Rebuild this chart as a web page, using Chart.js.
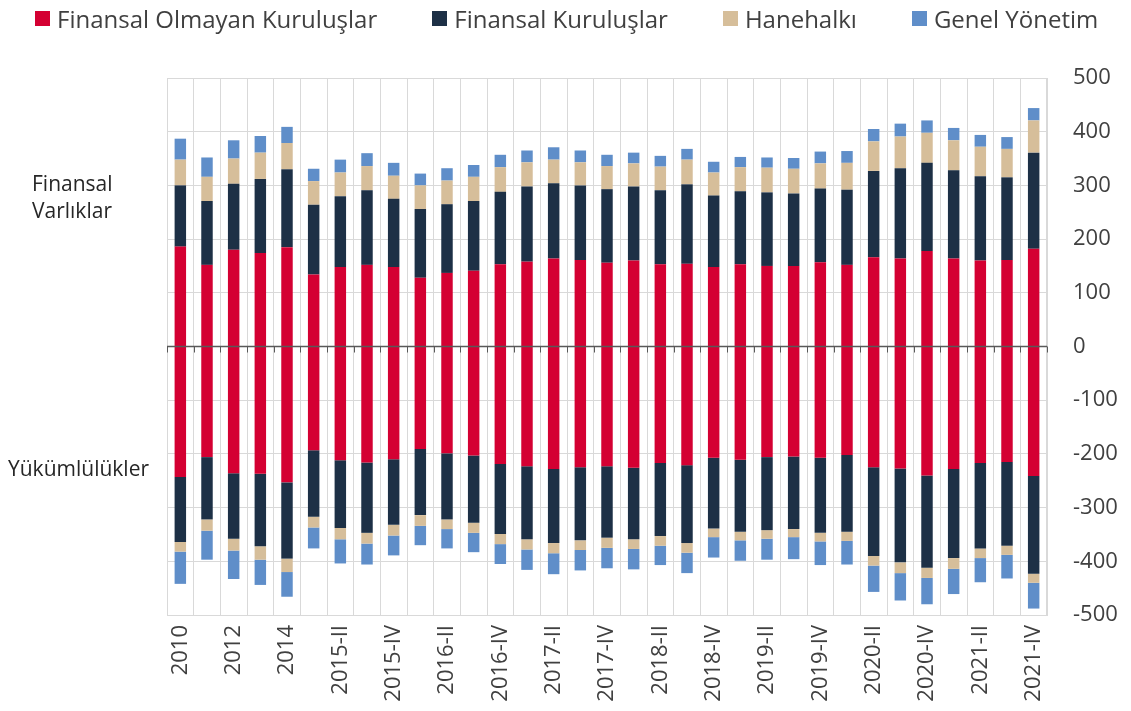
<!DOCTYPE html>
<html lang="tr">
<head>
<meta charset="utf-8">
<title>Finansal Varlıklar ve Yükümlülükler</title>
<script src="https://cdn.jsdelivr.net/npm/chart.js@4.4.1/dist/chart.umd.min.js"></script>
<style>
    html, body {
        margin: 0;
        padding: 0;
        background: #fff;
    }
    #wrap {
        position: relative;
        width: 1131px;
        height: 711px;
        font-family: "Open Sans", "DejaVu Sans", sans-serif;
    }
    #grafik {
        position: absolute;
        left: 0;
        top: 0;
    }
    #legenda {
        position: absolute;
        left: 35px;
        top: 2px;
        display: flex;
        gap: 55px;
        font-size: 24px;
        color: #404040;
        white-space: nowrap;
    }
    #legenda .item {
        display: flex;
        align-items: center;
    }
    #legenda .box {
        width: 15px;
        height: 15px;
        margin-right: 7px;
    }
    .rotulo {
        position: absolute;
        font-size: 21px;
        line-height: 27px;
        color: #262626;
    }
</style>
</head>
<body>
<div id="wrap">
    <canvas id="grafik" width="1131" height="711"></canvas>
    <div id="legenda"></div>
    <div class="rotulo" style="left:32px; top:170px;">Finansal<br>Varlıklar</div>
    <div class="rotulo" style="left:8px; top:455px;">Yükümlülükler</div>
</div>
<script>
// =======================
// DADOS
// =======================
const categorias = [
    "2010", "2011", "2012", "2013", "2014",
    "2015-I", "2015-II", "2015-III", "2015-IV",
    "2016-I", "2016-II", "2016-III", "2016-IV",
    "2017-I", "2017-II", "2017-III", "2017-IV",
    "2018-I", "2018-II", "2018-III", "2018-IV",
    "2019-I", "2019-II", "2019-III", "2019-IV",
    "2020-I", "2020-II", "2020-III", "2020-IV",
    "2021-I", "2021-II", "2021-III", "2021-IV"
];

const series = [
    "Finansal Olmayan Kuruluşlar",
    "Finansal Kuruluşlar",
    "Hanehalkı",
    "Genel Yönetim"
];

// varlıklar (positivo)
const nfkVarlik = [186, 152, 180, 174, 185, 134, 148, 152, 148, 128, 137, 141, 153, 158, 164, 161, 156, 160, 153, 154, 148, 153, 150, 150, 157, 152, 166, 164, 178, 164, 160, 161, 182];
const fkVarlik = [114, 119, 123, 138, 145, 130, 132, 139, 127, 128, 128, 130, 135, 140, 140, 139, 137, 138, 138, 148, 133, 136, 137, 135, 137, 140, 161, 168, 164, 164, 157, 154, 179];
const hhVarlik = [48, 45, 47, 49, 49, 44, 44, 45, 43, 44, 44, 45, 46, 45, 44, 43, 43, 43, 44, 46, 43, 45, 46, 46, 47, 50, 55, 59, 56, 56, 55, 53, 60];
const gyVarlik = [39, 36, 34, 31, 30, 23, 24, 24, 24, 22, 23, 22, 23, 22, 23, 22, 21, 20, 20, 20, 20, 19, 19, 20, 22, 22, 23, 24, 23, 23, 22, 22, 23];

// yükümlülükler (negativo)
const nfkYukum = [-243, -206, -236, -237, -253, -193, -212, -216, -210, -191, -199, -203, -219, -223, -228, -225, -223, -226, -217, -221, -207, -211, -206, -205, -207, -202, -225, -227, -240, -228, -217, -215, -241];
const fkYukum = [-121, -116, -122, -135, -142, -124, -126, -131, -122, -123, -123, -125, -130, -136, -138, -136, -133, -133, -136, -145, -132, -134, -136, -135, -140, -143, -165, -175, -172, -166, -159, -156, -182];
const hhYukum = [-18, -21, -22, -25, -25, -20, -21, -20, -20, -20, -18, -19, -19, -19, -19, -18, -19, -18, -18, -18, -16, -16, -16, -15, -16, -17, -18, -20, -19, -20, -18, -17, -17];
const gyYukum = [-60, -54, -53, -47, -46, -39, -45, -39, -37, -36, -36, -36, -37, -38, -39, -38, -38, -38, -36, -38, -38, -38, -39, -41, -44, -44, -49, -51, -49, -47, -45, -44, -48];

const yTicks = [500, 400, 300, 200, 100, 0, -100, -200, -300, -400, -500];

// =======================
// CONFIG
// =======================
const cores = ["#d40032", "#1d3046", "#d6be9a", "#5f8ec9"];
const GRADE = "#d9d9d9";
const TEXTO = "#404040";

// =======================
// DATASETS
// =======================
function montarDatasets() {
    const varliklar = [nfkVarlik, fkVarlik, hhVarlik, gyVarlik];
    const yukumler = [nfkYukum, fkYukum, hhYukum, gyYukum];
    const lista = [];

    series.forEach((nome, i) => {
        lista.push({ label: nome, data: varliklar[i], backgroundColor: cores[i], stack: "s" });
        lista.push({ label: nome, data: yukumler[i], backgroundColor: cores[i], stack: "s" });
    });

    return lista.map(d => ({
        ...d,
        borderWidth: 0,
        barPercentage: 0.43,
        categoryPercentage: 1
    }));
}

// =======================
// PLUGIN: linha zero + marcas
// =======================
const linhaZero = {
    id: "linhaZero",
    afterDatasetsDraw(chart) {
        const { ctx, chartArea, scales } = chart;
        const y0 = scales.y.getPixelForValue(0);
        const x = scales.x;

        ctx.save();
        ctx.strokeStyle = "#595959";
        ctx.lineWidth = 1.5;
        ctx.beginPath();
        ctx.moveTo(chartArea.left, y0);
        ctx.lineTo(chartArea.right, y0);
        ctx.stroke();

        ctx.lineWidth = 1;
        for (let i = 0; i <= categorias.length; i++) {
            const px = Math.round(x.getPixelForValue(i - 0.5)) + 0.5;
            ctx.beginPath();
            ctx.moveTo(px, y0);
            ctx.lineTo(px, y0 + 6);
            ctx.stroke();
        }
        ctx.restore();
    }
};

// =======================
// LEGENDA
// =======================
function renderLegenda() {
    const el = document.getElementById("legenda");
    el.innerHTML = "";

    series.forEach((nome, i) => {
        const item = document.createElement("div");
        item.className = "item";
        item.innerHTML = `<span class="box" style="background:${cores[i]}"></span><span>${nome}</span>`;
        el.appendChild(item);
    });
}

// =======================
// CHART
// =======================
function renderGrafico() {
    new Chart(document.getElementById("grafik"), {
        type: "bar",
        data: {
            labels: categorias,
            datasets: montarDatasets()
        },
        plugins: [linhaZero],
        options: {
            responsive: false,
            animation: false,
            layout: {
                padding: { left: 167, top: 78, right: 0, bottom: 0 }
            },
            plugins: {
                legend: { display: false },
                tooltip: { enabled: false }
            },
            scales: {
                x: {
                    stacked: true,
                    offset: true,
                    grid: {
                        offset: true,
                        color: GRADE,
                        drawTicks: false
                    },
                    border: { color: GRADE },
                    ticks: {
                        autoSkip: false,
                        maxRotation: 90,
                        minRotation: 90,
                        padding: 10,
                        color: TEXTO,
                        font: { family: "Open Sans", size: 22 },
                        callback: (v, i) => (i % 2 === 0 ? categorias[i] : "")
                    },
                    afterFit: s => { s.height = 96; }
                },
                y: {
                    stacked: true,
                    position: "right",
                    min: -500,
                    max: 500,
                    afterBuildTicks: s => { s.ticks = yTicks.map(v => ({ value: v })); },
                    grid: {
                        color: GRADE,
                        drawTicks: false
                    },
                    border: { color: GRADE },
                    ticks: {
                        crossAlign: "near",
                        padding: 26,
                        color: TEXTO,
                        font: { family: "Open Sans", size: 22 }
                    },
                    afterFit: s => { s.width = 84; }
                }
            }
        }
    });
}

// =======================
// INIT
// =======================
renderLegenda();
renderGrafico();
</script>
</body>
</html>
